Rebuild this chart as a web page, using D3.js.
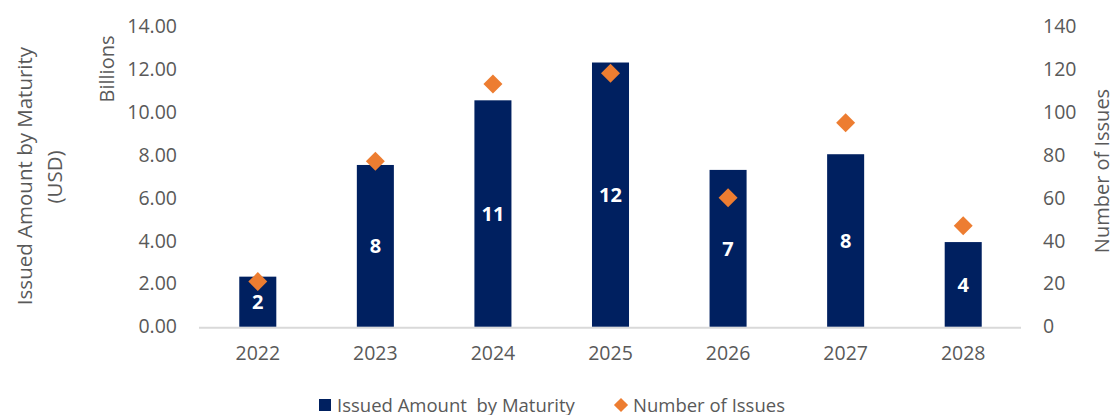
<!DOCTYPE html>
<html><head><meta charset="utf-8">
<script src="https://cdn.jsdelivr.net/npm/d3@7"></script>
<style>
body{margin:0;background:#fff;}
text{font-family:"Open Sans",sans-serif;}
</style></head>
<body><svg id="c" width="1113" height="415"></svg>
<script>
const years = ["2022","2023","2024","2025","2026","2027","2028"];
const amounts = [2.33, 7.53, 10.54, 12.30, 7.30, 8.03, 3.94];
const amountLabels = ["2","8","11","12","7","8","4"];
const issues = [21, 77, 113, 118, 60, 95, 47];
const leftTicks = [0,2,4,6,8,10,12,14];
const rightTicks = [0,20,40,60,80,100,120,140];

const svg = d3.select("#c");
const grey = "#595959";
const x = d3.scaleBand().domain(years).range([199, 1022]).paddingInner(0.685).paddingOuter(0.3425);
const yL = d3.scaleLinear().domain([0,14]).range([326.7, 26]);
const yR = d3.scaleLinear().domain([0,140]).range([326.7, 26]);

// baseline
svg.append("line").attr("x1",199).attr("x2",1021).attr("y1",yL(0)+1).attr("y2",yL(0)+1)
  .attr("stroke","#d9d9d9").attr("stroke-width",2);

// left axis
const gL = svg.append("g").attr("transform","translate(182,0)")
  .call(d3.axisLeft(yL).tickValues(leftTicks).tickFormat(d3.format(".2f")).tickSize(0).tickPadding(5));
gL.select(".domain").remove();
gL.selectAll("text").attr("fill",grey).style("font-size","19.5px").style("font-family","Open Sans");

// right axis
const gR = svg.append("g").attr("transform","translate(1038,0)")
  .call(d3.axisRight(yR).tickValues(rightTicks).tickSize(0).tickPadding(5));
gR.select(".domain").remove();
gR.selectAll("text").attr("fill",grey).style("font-size","19.5px").style("font-family","Open Sans");

// bottom axis
const gB = svg.append("g").attr("transform",`translate(0,${yL(0)})`)
  .call(d3.axisBottom(x).tickSize(0).tickPadding(19));
gB.select(".domain").remove();
gB.selectAll("text").attr("fill",grey).style("font-size","19.5px").style("font-family","Open Sans");

// bars
svg.selectAll("rect.bar").data(years).join("rect").attr("class","bar")
  .attr("x",d=>x(d)).attr("width",x.bandwidth())
  .attr("y",(d,i)=>yL(amounts[i])).attr("height",(d,i)=>yL(0)-yL(amounts[i]))
  .attr("fill","#002060");

// bar labels
svg.selectAll("text.bl").data(years).join("text").attr("class","bl")
  .attr("x",d=>x(d)+x.bandwidth()/2)
  .attr("y",(d,i)=>(yL(amounts[i])+yL(0))/2)
  .attr("text-anchor","middle").attr("dominant-baseline","central")
  .attr("fill","#fff").style("font-weight","bold").style("font-size","20px")
  .text((d,i)=>amountLabels[i]);

// diamonds
const diamond = d3.symbol().type(d3.symbolSquare).size(180);
svg.selectAll("path.dm").data(years).join("path").attr("class","dm")
  .attr("d",diamond)
  .attr("transform",(d,i)=>`translate(${x(d)+x.bandwidth()/2},${yR(issues[i])}) rotate(45)`)
  .attr("fill","#ED7D31");

// axis titles
svg.append("text").attr("transform","translate(24,176) rotate(-90)")
  .attr("text-anchor","middle").attr("dominant-baseline","central")
  .attr("fill",grey).style("font-size","20.5px")
  .text("Issued Amount by Maturity");
svg.append("text").attr("transform","translate(54,177) rotate(-90)")
  .attr("text-anchor","middle").attr("dominant-baseline","central")
  .attr("fill",grey).style("font-size","20.5px").text("(USD)");
svg.append("text").attr("transform","translate(106,69) rotate(-90)")
  .attr("text-anchor","middle").attr("dominant-baseline","central")
  .attr("fill",grey).style("font-size","20px").text("Billions");
svg.append("text").attr("transform","translate(1101,171) rotate(-90)")
  .attr("text-anchor","middle").attr("dominant-baseline","central")
  .attr("fill",grey).style("font-size","20px").text("Number of Issues");

// legend
svg.append("rect").attr("x",319).attr("y",399).attr("width",12).attr("height",12).attr("fill","#002060");
svg.append("text").attr("x",337).attr("y",404).attr("dominant-baseline","central")
  .attr("fill",grey).style("font-size","18.5px").style("white-space","pre").text("Issued Amount  by Maturity");
svg.append("path").attr("d",d3.symbol().type(d3.symbolSquare).size(100))
  .attr("transform","translate(621,405) rotate(45)").attr("fill","#ED7D31");
svg.append("text").attr("x",633).attr("y",404).attr("dominant-baseline","central")
  .attr("fill",grey).style("font-size","18.5px").text("Number of Issues");
</script></body></html>
